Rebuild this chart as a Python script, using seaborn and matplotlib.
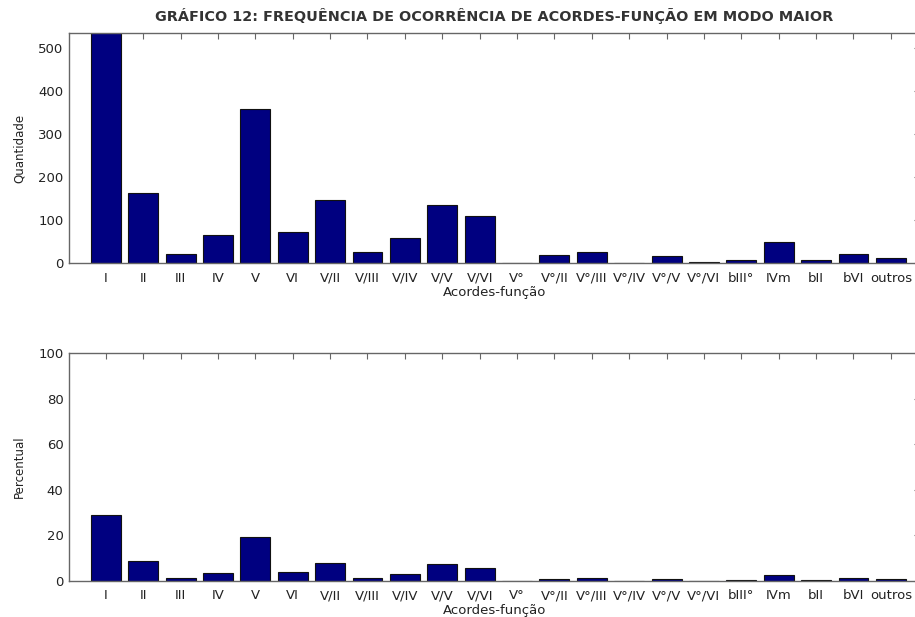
import matplotlib
matplotlib.use("Agg")
import matplotlib.pyplot as plt
import seaborn as sns
import pandas as pd

# Chord functions (major mode) and their occurrence counts / percentages
acordes = ["I", "II", "III", "IV", "V", "VI", "V/II", "V/III", "V/IV", "V/V",
           "V/VI", "V°", "V°/II", "V°/III", "V°/IV", "V°/V", "V°/VI", "bIII°",
           "IVm", "bII", "bVI", "outros"]
quantidade = [535, 164, 21, 66, 359, 72, 147, 27, 58, 135,
              110, 0, 19, 27, 0, 18, 2, 8, 49, 7, 21, 13]
percentual = [28.8, 8.8, 1.1, 3.6, 19.3, 3.9, 7.9, 1.5, 3.1, 7.3,
              5.9, 0.0, 1.0, 1.5, 0.0, 1.0, 0.1, 0.4, 2.6, 0.4, 1.1, 0.7]
ticks_quant = [0, 100, 200, 300, 400, 500]
ticks_perc = [0, 20, 40, 60, 80, 100]

titulo = "GRÁFICO 12: FREQUÊNCIA DE OCORRÊNCIA DE ACORDES-FUNÇÃO EM MODO MAIOR"

sns.set_theme(style="white")
plt.rcParams["font.family"] = ["DejaVu Sans"]

df = pd.DataFrame({"acorde": acordes, "quantidade": quantidade,
                   "percentual": percentual})

W, H = 915, 617
fig = plt.figure(figsize=(W / 100, H / 100), dpi=100)
fig.patch.set_facecolor("white")

def frac(left, top, right, bottom):
    return [left / W, 1 - bottom / H, (right - left) / W, (bottom - top) / H]

ax1 = fig.add_axes(frac(69, 33, 920, 263.3))
ax2 = fig.add_axes(frac(69, 353, 920, 581))

bar_color = "#000080"
edge = "#111111"
axis_col = "#666666"
txt_col = "#222222"

for ax, col, lim, yt, ylab in [
    (ax1, "quantidade", 535, ticks_quant, "Quantidade"),
    (ax2, "percentual", 100, ticks_perc, "Percentual"),
]:
    sns.barplot(data=df, x="acorde", y=col, order=acordes, color=bar_color,
                saturation=1, edgecolor=edge, linewidth=0.8, width=0.8, ax=ax)
    ax.set_xlim(-0.985, 21.78)
    ax.set_ylim(0, lim)
    ax.set_yticks(yt)
    ax.set_yticklabels([str(v) for v in yt])
    ax.set_xticks(range(len(acordes)))
    ax.set_xticklabels(acordes)
    ax.tick_params(axis="both", direction="in", length=4, width=0.8,
                   colors=axis_col, labelcolor=txt_col, labelsize=9.5,
                   top=True, right=True, labeltop=False, labelright=False)
    ax.tick_params(axis="x", pad=6)
    ax.tick_params(axis="y", pad=4)
    for s in ax.spines.values():
        s.set_visible(True)
        s.set_color(axis_col)
        s.set_linewidth(1.0)
    ax.set_xlabel("Acordes-função", fontsize=9.5, color=txt_col, labelpad=1)
    ax.set_ylabel(ylab, fontsize=8.5, color=txt_col, labelpad=9)
    ax.set_facecolor("white")

ax1.set_title(titulo, fontsize=10.4, fontweight="bold", color="#333333", pad=9)

fig.savefig("out.png", dpi=100, facecolor="white")
